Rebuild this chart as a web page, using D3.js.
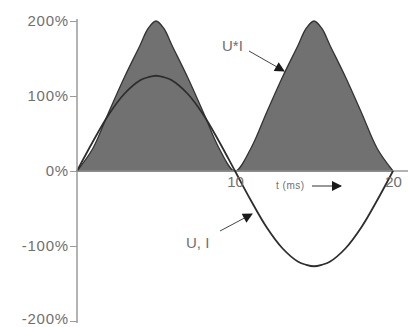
<!DOCTYPE html>
<html>
<head>
<meta charset="utf-8">
<script src="https://cdn.jsdelivr.net/npm/d3@7"></script>
<style>
  body { margin: 0; background: #fff; }
  svg text { font-family: "Liberation Sans", Arial, sans-serif; }
</style>
</head>
<body>
<script>
// time in ms
const time = [0, 1, 2, 3, 4, 4.5, 5, 5.5, 6, 7, 8, 9, 10, 11, 12, 13, 14, 14.5, 15, 15.5, 16, 17, 18, 19, 20];
// voltage / current (they overlap), in %
const voltCurrent = [0, 39, 75, 103, 121, 125, 127, 125, 121, 103, 75, 39, 0, -39, -75, -103, -121, -125, -127, -125, -121, -103, -75, -39, 0];
// power U*I, in %
const power = [0, 30, 78, 125, 168, 190, 200, 190, 168, 125, 78, 30, 0, 30, 78, 125, 168, 190, 200, 190, 168, 125, 78, 30, 0];
const yTicks = [-200, -100, 0, 100, 200];
const xTicks = [10, 20];

const width = 408, height = 327;

const svg = d3.select("body").append("svg")
    .attr("width", width)
    .attr("height", height);

const x = d3.scaleLinear().domain([0, 20]).range([77, 393]);
const y = d3.scaleLinear().domain([-200, 200]).range([321, 21]);

const defs = svg.append("defs");
defs.append("marker")
    .attr("id", "arrow")
    .attr("viewBox", "0 0 10 10")
    .attr("refX", 9).attr("refY", 5)
    .attr("markerWidth", 14).attr("markerHeight", 10)
    .attr("markerUnits", "userSpaceOnUse")
    .attr("orient", "auto")
    .append("path")
    .attr("d", "M0,0L10,5L0,10z")
    .attr("fill", "#1a1a1a");

// power area
const pts = time.map((t, i) => ({ t: t, p: power[i], v: voltCurrent[i] }));

const area = d3.area()
    .x(d => x(d.t))
    .y0(y(0))
    .y1(d => y(d.p))
    .curve(d3.curveCatmullRom);

svg.append("path")
    .datum(pts)
    .attr("d", area)
    .attr("fill", "#717171")
    .attr("stroke", "#333")
    .attr("stroke-width", 1.3);

// x axis line
svg.append("line")
    .attr("x1", x(0)).attr("x2", 408)
    .attr("y1", y(0)).attr("y2", y(0))
    .attr("stroke", "#9a9a9a")
    .attr("stroke-width", 1.5);

// U, I line
const line = d3.line()
    .x(d => x(d.t))
    .y(d => y(d.v))
    .curve(d3.curveCatmullRom);

svg.append("path")
    .datum(pts)
    .attr("d", line)
    .attr("fill", "none")
    .attr("stroke", "#2e2e2e")
    .attr("stroke-width", 1.8);

// y axis
const yAxis = svg.append("g")
    .attr("transform", "translate(" + x(0) + ",0)")
    .call(d3.axisLeft(y).tickValues(yTicks).tickSize(7).tickFormat(d => d + "%"));
yAxis.select(".domain").attr("stroke", "#9a9a9a").attr("stroke-width", 1.5)
    .attr("d", "M0," + (y(200) - 2) + "V" + (y(-200) + 2));
yAxis.selectAll(".tick line").attr("stroke", "#9a9a9a");
yAxis.selectAll(".tick text")
    .attr("fill", "#707070")
    .attr("font-size", 15)
    .attr("letter-spacing", 0.8)
    .attr("x", -8)
    .attr("dy", d => d === -200 ? "0.15em" : "0.32em");

// x tick labels
const xAxis = svg.append("g")
    .attr("transform", "translate(0," + y(0) + ")")
    .call(d3.axisBottom(x).tickValues(xTicks).tickSize(0).tickPadding(5));
xAxis.select(".domain").remove();
xAxis.selectAll(".tick text")
    .attr("fill", "#707070")
    .attr("font-size", 15);

// t (ms) label
svg.append("text")
    .attr("x", 276).attr("y", 189)
    .attr("fill", "#707070")
    .attr("font-size", 10)
    .attr("letter-spacing", 0.5)
    .text("t (ms)");
svg.append("line")
    .attr("x1", 312).attr("y1", 186)
    .attr("x2", 341).attr("y2", 186)
    .attr("stroke", "#333")
    .attr("stroke-width", 1)
    .attr("marker-end", "url(#arrow)");

// annotations
svg.append("text")
    .attr("x", 222).attr("y", 51)
    .attr("fill", "#707070")
    .attr("font-size", 15)
    .text("U*I");
svg.append("line")
    .attr("x1", 249).attr("y1", 51)
    .attr("x2", 284).attr("y2", 71)
    .attr("stroke", "#444")
    .attr("stroke-width", 1)
    .attr("marker-end", "url(#arrow)");

svg.append("text")
    .attr("x", 186).attr("y", 248)
    .attr("fill", "#707070")
    .attr("font-size", 15)
    .text("U, I");
svg.append("line")
    .attr("x1", 220).attr("y1", 231)
    .attr("x2", 252).attr("y2", 214)
    .attr("stroke", "#444")
    .attr("stroke-width", 1)
    .attr("marker-end", "url(#arrow)");
</script>
</body>
</html>
